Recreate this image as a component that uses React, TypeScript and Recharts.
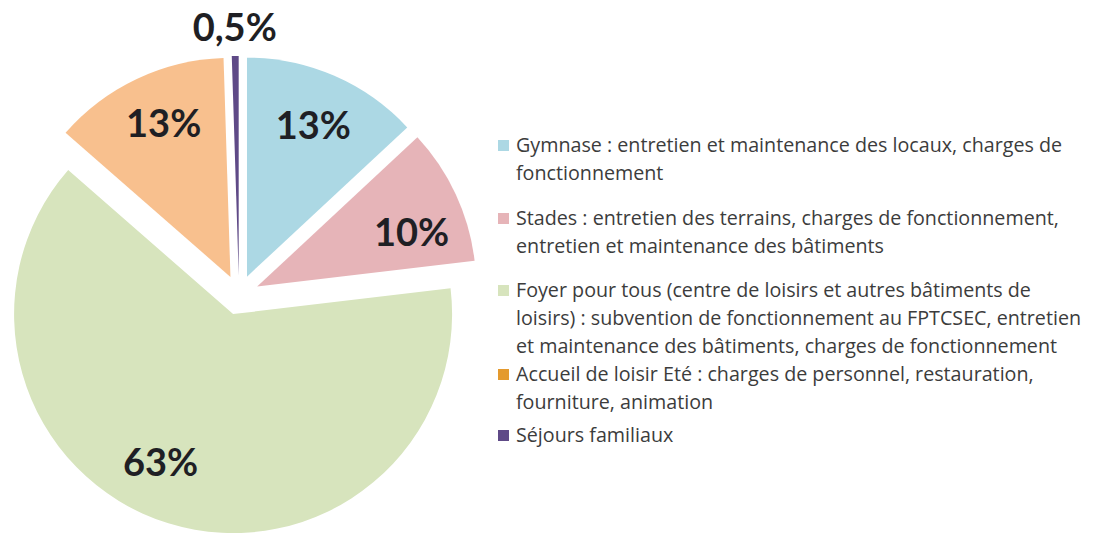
import React from 'react';
import { PieChart, Pie, Cell, Legend } from 'recharts';

// Shares of the budget, clockwise from 12 o'clock
const NAMES = ['Gymnase', 'Stades', 'Foyer pour tous', 'Accueil de loisir Eté', 'Séjours familiaux'];
const VALUES = [13, 10, 63, 13, 0.5];
const VALUE_LABELS = ['13%', '10%', '63%', '13%', '0,5%'];
const SLICE_COLORS = ['#acd8e4', '#e6b4b8', '#d7e4bd', '#f8c08e', '#5f4a87'];
const SWATCH_COLORS = ['#acd8e4', '#e6b4b8', '#d7e4bd', '#e49a2e', '#5f4a87'];
const LEGEND_LINES = [
  ['Gymnase : entretien et maintenance des locaux, charges de', 'fonctionnement'],
  ['Stades : entretien des terrains, charges de fonctionnement,', 'entretien et maintenance des bâtiments'],
  [
    'Foyer pour tous (centre de loisirs et autres bâtiments de',
    'loisirs) : subvention de fonctionnement au FPTCSEC, entretien',
    'et maintenance des bâtiments, charges de fonctionnement',
  ],
  ['Accueil de loisir Eté : charges de personnel, restauration,', 'fourniture, animation'],
  ['Séjours familiaux'],
];

const data = NAMES.map((name, i) => ({ name, value: VALUES[i], label: VALUE_LABELS[i] }));

const W = 1095;
const H = 537;
const CX = 239;
const CY = 295;
const R = 219;
const EXPLODE = 20;
const RAD = Math.PI / 180;
const LEGEND_GAPS = [0, 17, 16, 0, 5];
// label placement tweaks (radius as fraction of R, angle shift in degrees, clockwise)
const LABEL_RADIUS = [0.76, 0.75, 0.75, 0.77, 1.135];
const LABEL_SHIFT = [0, 5, 9, 2, 0];

const total = VALUES.reduce((a, b) => a + b, 0);
// clock angle (deg) of each slice middle, used to push slices outward
const midClock = VALUES.map((v, i) => {
  const before = VALUES.slice(0, i).reduce((a, b) => a + b, 0);
  return ((before + v / 2) / total) * 360;
});

const renderLabel = (k: number) => (props: any) => {
  if (props.index !== k) return null;
  const { cx, cy, midAngle, outerRadius, payload } = props;
  const r = outerRadius * LABEL_RADIUS[k];
  const a = midAngle - LABEL_SHIFT[k];
  const x = cx + r * Math.cos(-a * RAD);
  const y = cy + r * Math.sin(-a * RAD);
  return (
    <text
      x={x}
      y={y}
      textAnchor="middle"
      dominantBaseline="central"
      fill="#1f1f24"
      fontFamily="Lato, sans-serif"
      fontWeight={700}
      fontSize={38}
    >
      {payload.label}
    </text>
  );
};

const LegendBox = () => (
  <div style={{ fontFamily: '"Open Sans", sans-serif', fontSize: 19.7, color: '#3c3c3c', lineHeight: '28px' }}>
    {LEGEND_LINES.map((lines, i) => (
      <div key={i} style={{ display: 'flex', marginTop: LEGEND_GAPS[i] }}>
        <div style={{ width: 11, height: 11, background: SWATCH_COLORS[i], marginTop: 9, marginRight: 7, flexShrink: 0 }} />
        <div style={{ whiteSpace: 'nowrap' }}>
          {lines.map((l, j) => (
            <div key={j}>{l}</div>
          ))}
        </div>
      </div>
    ))}
  </div>
);

export default function App() {
  return (
    <div style={{ position: 'absolute', left: 0, top: 0, width: W, height: H, background: '#fff', overflow: 'hidden' }}>
      <PieChart width={W} height={H} margin={{ top: 0, right: 0, bottom: 0, left: 0 }}>
        {NAMES.map((_, k) => (
          <Pie
            key={k}
            data={data}
            dataKey="value"
            cx={CX + EXPLODE * Math.sin(midClock[k] * RAD)}
            cy={CY - EXPLODE * Math.cos(midClock[k] * RAD)}
            outerRadius={R}
            startAngle={90}
            endAngle={-270}
            stroke="none"
            labelLine={false}
            label={renderLabel(k)}
            isAnimationActive={false}
          >
            {data.map((entry, i) => (
              <Cell key={`cell-${k}-${i}`} fill={i === k ? SLICE_COLORS[i] : 'transparent'} stroke="none" />
            ))}
          </Pie>
        ))}
        <Legend
          layout="vertical"
          content={() => <LegendBox />}
          wrapperStyle={{ position: 'absolute', left: 498, top: 131, width: 597 }}
        />
      </PieChart>
    </div>
  );
}
